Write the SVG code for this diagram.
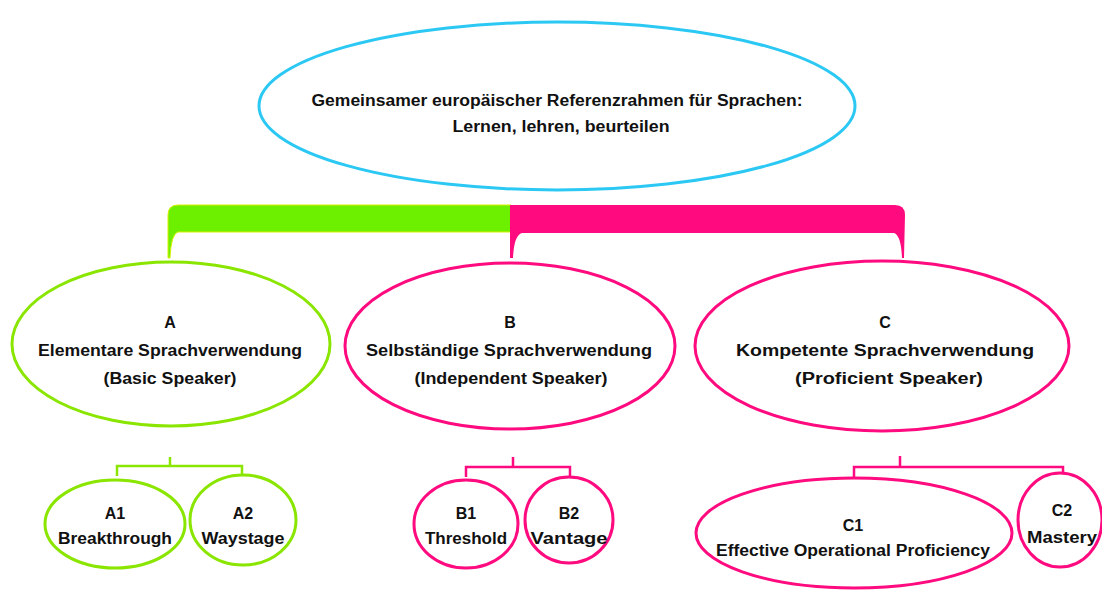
<svg xmlns="http://www.w3.org/2000/svg" width="1102" height="590" viewBox="0 0 1102 590">
<style>
.t{font-family:"Liberation Sans",Arial,sans-serif;font-weight:bold;font-size:16px;fill:#111;text-anchor:middle}
.s{font-size:15px}
.cy{fill:#fff;stroke:#2cc8f4;stroke-width:3}
.gr{fill:#fff;stroke:#8ae600;stroke-width:3}
.mg{fill:#fff;stroke:#ff0a7f;stroke-width:3}
.lg{fill:none;stroke:#8ae600;stroke-width:2.5}
.lm{fill:none;stroke:#ff0a7f;stroke-width:2.5}
</style>
<rect width="1102" height="590" fill="#fff"/>
<g id="connectors">
<path d="M168 258 L168 215 Q168 205 178 205 L511 205 L511 232 L178 232 Q171 234 170 258 Z" fill="#6cf000" stroke="#d8f000" stroke-width="1"/>
<path d="M510 258 L510 205 L895 205 Q905 205 905 215 L904 258 L902 258 Q901 235 894 233 L522 233 Q514 235 513 258 Z" fill="#ff0a7f"/>
<path class="lg" d="M170 457 V466 M117 476 V466 H242 V476"/>
<path class="lm" d="M513 457 V467 M466 477 V467 H570 V477"/>
<path class="lm" d="M900 456 V467 M854 477 V467 H1063 V476"/>
</g>
<g id="root">
<ellipse class="cy" cx="557" cy="106" rx="298" ry="84"/>
<text class="t" x="557" y="106" textLength="491" lengthAdjust="spacingAndGlyphs">Gemeinsamer europäischer Referenzrahmen für Sprachen:</text>
<text class="t" x="561" y="132" textLength="217" lengthAdjust="spacingAndGlyphs">Lernen, lehren, beurteilen</text>
</g>
<g id="A">
<ellipse class="gr" cx="171" cy="344" rx="159" ry="82"/>
<text class="t" x="170" y="328">A</text>
<text class="t" x="170" y="356" textLength="264" lengthAdjust="spacingAndGlyphs">Elementare Sprachverwendung</text>
<text class="t" x="170" y="384" textLength="133" lengthAdjust="spacingAndGlyphs">(Basic Speaker)</text>
</g>
<g id="B">
<ellipse class="mg" cx="510" cy="346" rx="165" ry="83"/>
<text class="t" x="510" y="328">B</text>
<text class="t" x="509" y="356" textLength="286" lengthAdjust="spacingAndGlyphs">Selbständige Sprachverwendung</text>
<text class="t" x="511" y="384" textLength="193" lengthAdjust="spacingAndGlyphs">(Independent Speaker)</text>
</g>
<g id="C">
<ellipse class="mg" cx="882" cy="346" rx="187" ry="85"/>
<text class="t" x="885" y="328">C</text>
<text class="t" x="885" y="356" textLength="298" lengthAdjust="spacingAndGlyphs">Kompetente Sprachverwendung</text>
<text class="t" x="889" y="384" textLength="188" lengthAdjust="spacingAndGlyphs">(Proficient Speaker)</text>
</g>
<g id="A1">
<ellipse class="gr" cx="115" cy="524" rx="70" ry="44"/>
<text class="t" x="115" y="519">A1</text>
<text class="t" x="115" y="544" textLength="114" lengthAdjust="spacingAndGlyphs">Breakthrough</text>
</g>
<g id="A2">
<ellipse class="gr" cx="243" cy="520" rx="53" ry="45"/>
<text class="t" x="243" y="519">A2</text>
<text class="t" x="243" y="544" textLength="83" lengthAdjust="spacingAndGlyphs">Waystage</text>
</g>
<g id="B1">
<ellipse class="mg" cx="466" cy="524" rx="52" ry="44"/>
<text class="t" x="466" y="519">B1</text>
<text class="t" x="466" y="544" textLength="82" lengthAdjust="spacingAndGlyphs">Threshold</text>
</g>
<g id="B2">
<ellipse class="mg" cx="569" cy="520" rx="44" ry="43"/>
<text class="t" x="569" y="519">B2</text>
<text class="t" x="569" y="544" textLength="77" lengthAdjust="spacingAndGlyphs">Vantage</text>
</g>
<g id="C1">
<ellipse class="mg" cx="854" cy="533" rx="158" ry="55"/>
<text class="t" x="853" y="531">C1</text>
<text class="t" x="853" y="556" textLength="274" lengthAdjust="spacingAndGlyphs">Effective Operational Proficiency</text>
</g>
<g id="C2">
<ellipse class="mg" cx="1060" cy="520" rx="42" ry="47"/>
<text class="t" x="1062" y="516">C2</text>
<text class="t" x="1062" y="543" textLength="70" lengthAdjust="spacingAndGlyphs">Mastery</text>
</g>
</svg>
